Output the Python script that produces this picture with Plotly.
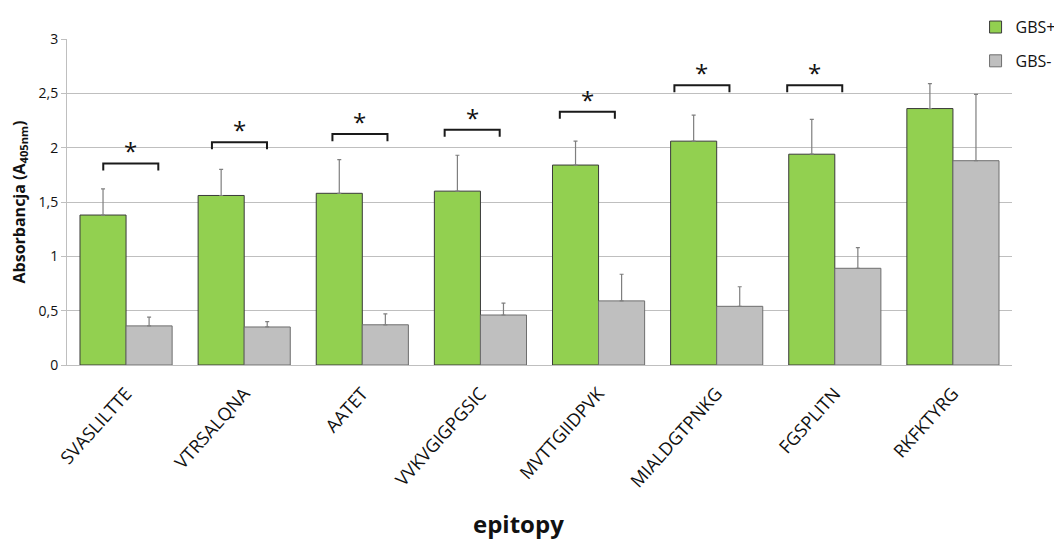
import plotly.graph_objects as go

categories = ["SVASLILTTE", "VTRSALQNA", "AATET", "VVKVGIGPGSIC",
              "MVTTGIIDPVK", "MIALDGTPNKG", "FGSPLITN", "RKFKTYRG"]
gbs_pos = [1.38, 1.56, 1.58, 1.60, 1.84, 2.06, 1.94, 2.36]
gbs_pos_err = [0.24, 0.24, 0.31, 0.33, 0.22, 0.24, 0.32, 0.23]
gbs_neg = [0.36, 0.35, 0.37, 0.46, 0.59, 0.54, 0.89, 1.88]
gbs_neg_err = [0.08, 0.05, 0.10, 0.11, 0.245, 0.18, 0.19, 0.61]
# significance brackets (one per category except the last)
bracket_y = [1.855, 2.05, 2.125, 2.165, 2.33, 2.575, 2.575]
bracket_shift = [0.04, -0.04, -0.02, -0.07, -0.095, -0.125, -0.17]

xs = list(range(len(categories)))
font = "Open Sans"

fig = go.Figure()
fig.add_trace(go.Bar(
    x=xs, y=gbs_pos, name="GBS+",
    marker=dict(color="#92D050", line=dict(color="#3A3A3A", width=1)),
    error_y=dict(type="data", array=gbs_pos_err, arrayminus=[0] * len(xs),
                 symmetric=False, color="#7F7F7F", thickness=1.2, width=2),
    legendgroup="a"))
fig.add_trace(go.Bar(
    x=xs, y=gbs_neg, name="GBS-",
    marker=dict(color="#BFBFBF", line=dict(color="#6E6E6E", width=1)),
    error_y=dict(type="data", array=gbs_neg_err, arrayminus=[0] * len(xs),
                 symmetric=False, color="#7F7F7F", thickness=1.2, width=2),
    legendgroup="b"))

half = 0.233
leg = 0.065
bx, by = [], []
annotations = []
for i, (yb, sh) in enumerate(zip(bracket_y, bracket_shift)):
    c = i + sh
    bx += [c - half, c - half, c + half, c + half, None]
    by += [yb - leg, yb, yb, yb - leg, None]
    annotations.append(dict(x=c, y=yb, xref="x", yref="y", text="*",
                            showarrow=False, yanchor="bottom", yshift=-6,
                            font=dict(family=font, size=24, color="#111")))
fig.add_trace(go.Scatter(x=bx, y=by, mode="lines",
                         line=dict(color="#1A1A1A", width=2),
                         showlegend=False, hoverinfo="skip"))

annotations.append(dict(x=0.478, y=-0.485, xref="paper", yref="paper",
                        text="<b>epitopy</b>", showarrow=False,
                        xanchor="center", yanchor="middle",
                        font=dict(family=font, size=24, color="#111")))

fig.update_layout(
    width=1054, height=532,
    margin=dict(l=59, r=50, t=31, b=175, autoexpand=False),
    paper_bgcolor="white", plot_bgcolor="white",
    barmode="group", bargap=0.22, bargroupgap=0,
    separators=", ",
    font=dict(family=font, color="#111"),
    annotations=annotations,
    legend=dict(xref="container", yref="container", x=0.918, y=0.996,
                xanchor="left", yanchor="top", itemwidth=30,
                font=dict(size=16, family=font), traceorder="grouped",
                tracegroupgap=10, bgcolor="rgba(0,0,0,0)"),
    xaxis=dict(range=[-0.5, 7.5], tickmode="array", tickvals=xs,
               ticktext=categories, tickangle=-48, automargin=False,
               tickfont=dict(size=18, family=font), ticklabelstandoff=10,
               showline=True, linecolor="#BFBFBF", linewidth=1,
               showgrid=False, ticks=""),
    yaxis=dict(range=[0, 3], tickvals=[0, 0.5, 1, 1.5, 2, 2.5, 3],
               tickformat=".1~f", automargin=False,
               tickfont=dict(size=14, family=font),
               showgrid=True, gridcolor="#BFBFBF", gridwidth=1,
               showline=True, linecolor="#BFBFBF", linewidth=1,
               ticks="outside", ticklen=5, tickcolor="#BFBFBF",
               zeroline=False,
               title=dict(text="<b>Absorbancja (A<sub>405nm</sub>)</b>",
                          font=dict(size=16, family=font), standoff=10)),
)

fig.write_html("out.html")
